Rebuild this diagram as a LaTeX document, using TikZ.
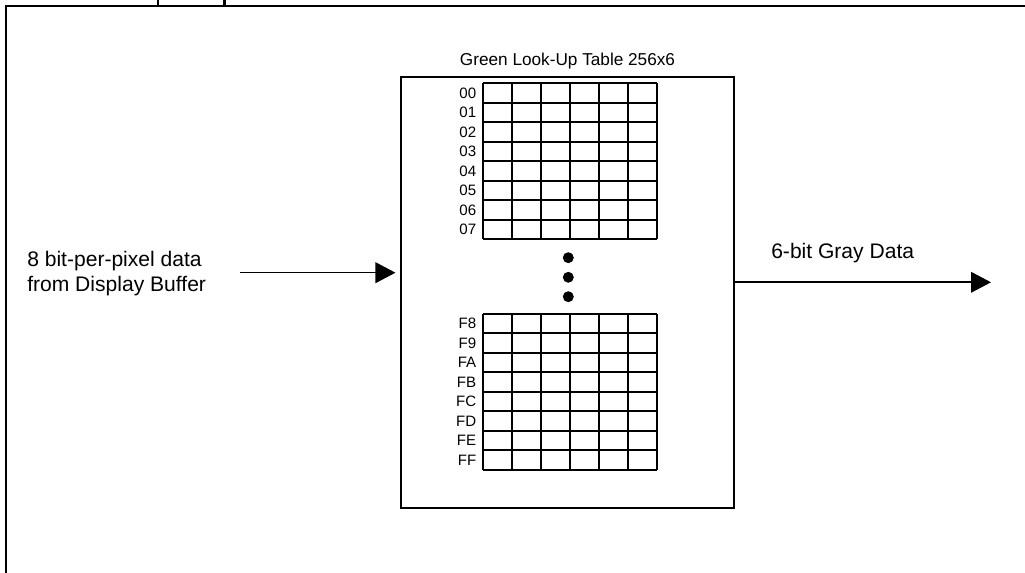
\documentclass[tikz,border=0pt]{standalone}
\usepackage{fontspec}
\setmainfont{Liberation Sans}
\usetikzlibrary{positioning, arrows.meta}

\begin{document}
\begin{tikzpicture}[x=0.75pt, y=-0.75pt,
        lutbox/.style={draw, line width=1.3pt, minimum width=249.75pt, minimum height=323.25pt, inner sep=0pt},
        gridline/.style={line width=1.5pt},
        rowlab/.style={anchor=east, inner sep=0pt, font=\fontsize{11.3}{13}\selectfont},
        lbl/.style={inner sep=0pt, align=left, font=\fontsize{15.8}{18.75}\selectfont},
        flow/.style={line width=1.2pt, -{Triangle[length=15pt, width=15.5pt]}}
    ]
      \useasboundingbox (0,0) rectangle (1025,573);
      % page frame
      \draw[line width=1.6pt] (1025,6) -- (6,6) -- (6,573);
      \draw[line width=2pt] (158,0) -- (158,5) (224.7,0) -- (224.7,5);

      \node[lutbox] (lut) at (567.5,292.5) {};
      \node[inner sep=0pt, font=\fontsize{12.9}{15}\selectfont, above=4.8pt of lut] (title)
           {Green Look-Up Table 256x6};

      % table rows
      \foreach \y in {83.5, 314} {
        \foreach \i in {0,...,6} \draw[gridline] (483+29*\i, \y) -- ++(0,156);
        \foreach \j in {0,...,8} \draw[gridline] (483, \y+19.5*\j) -- ++(174,0);
      }
      \foreach \lab [count=\k from 0] in {00,01,02,03,04,05,06,07}
        \node[rowlab] (top\k) at (476.5, 93.25+19.5*\k) {\lab};
      \foreach \lab [count=\k from 0] in {F8,F9,FA,FB,FC,FD,FE,FF}
        \node[rowlab] (bot\k) at (476.5, 323.75+19.5*\k) {\lab};

      % ellipsis
      \foreach \y in {257.7, 277.3, 296.7}
        \fill (568.3,\y) circle (4.1pt);

      \node[lbl, anchor=west] (src) at (27,273.8)
           {8 bit-per-pixel data\\from Display Buffer};
      \node[lbl, anchor=base west] (gray) at (771,258.3) {6-bit Gray Data};

      \coordinate (in) at (240,272.7);
      \coordinate (out) at (991,282.3);
      \draw[flow, shorten >=3.5pt] (in) -- (in -| lut.west);
      \draw[flow] (out -| lut.east) -- (out);
    \end{tikzpicture}
\end{document}
